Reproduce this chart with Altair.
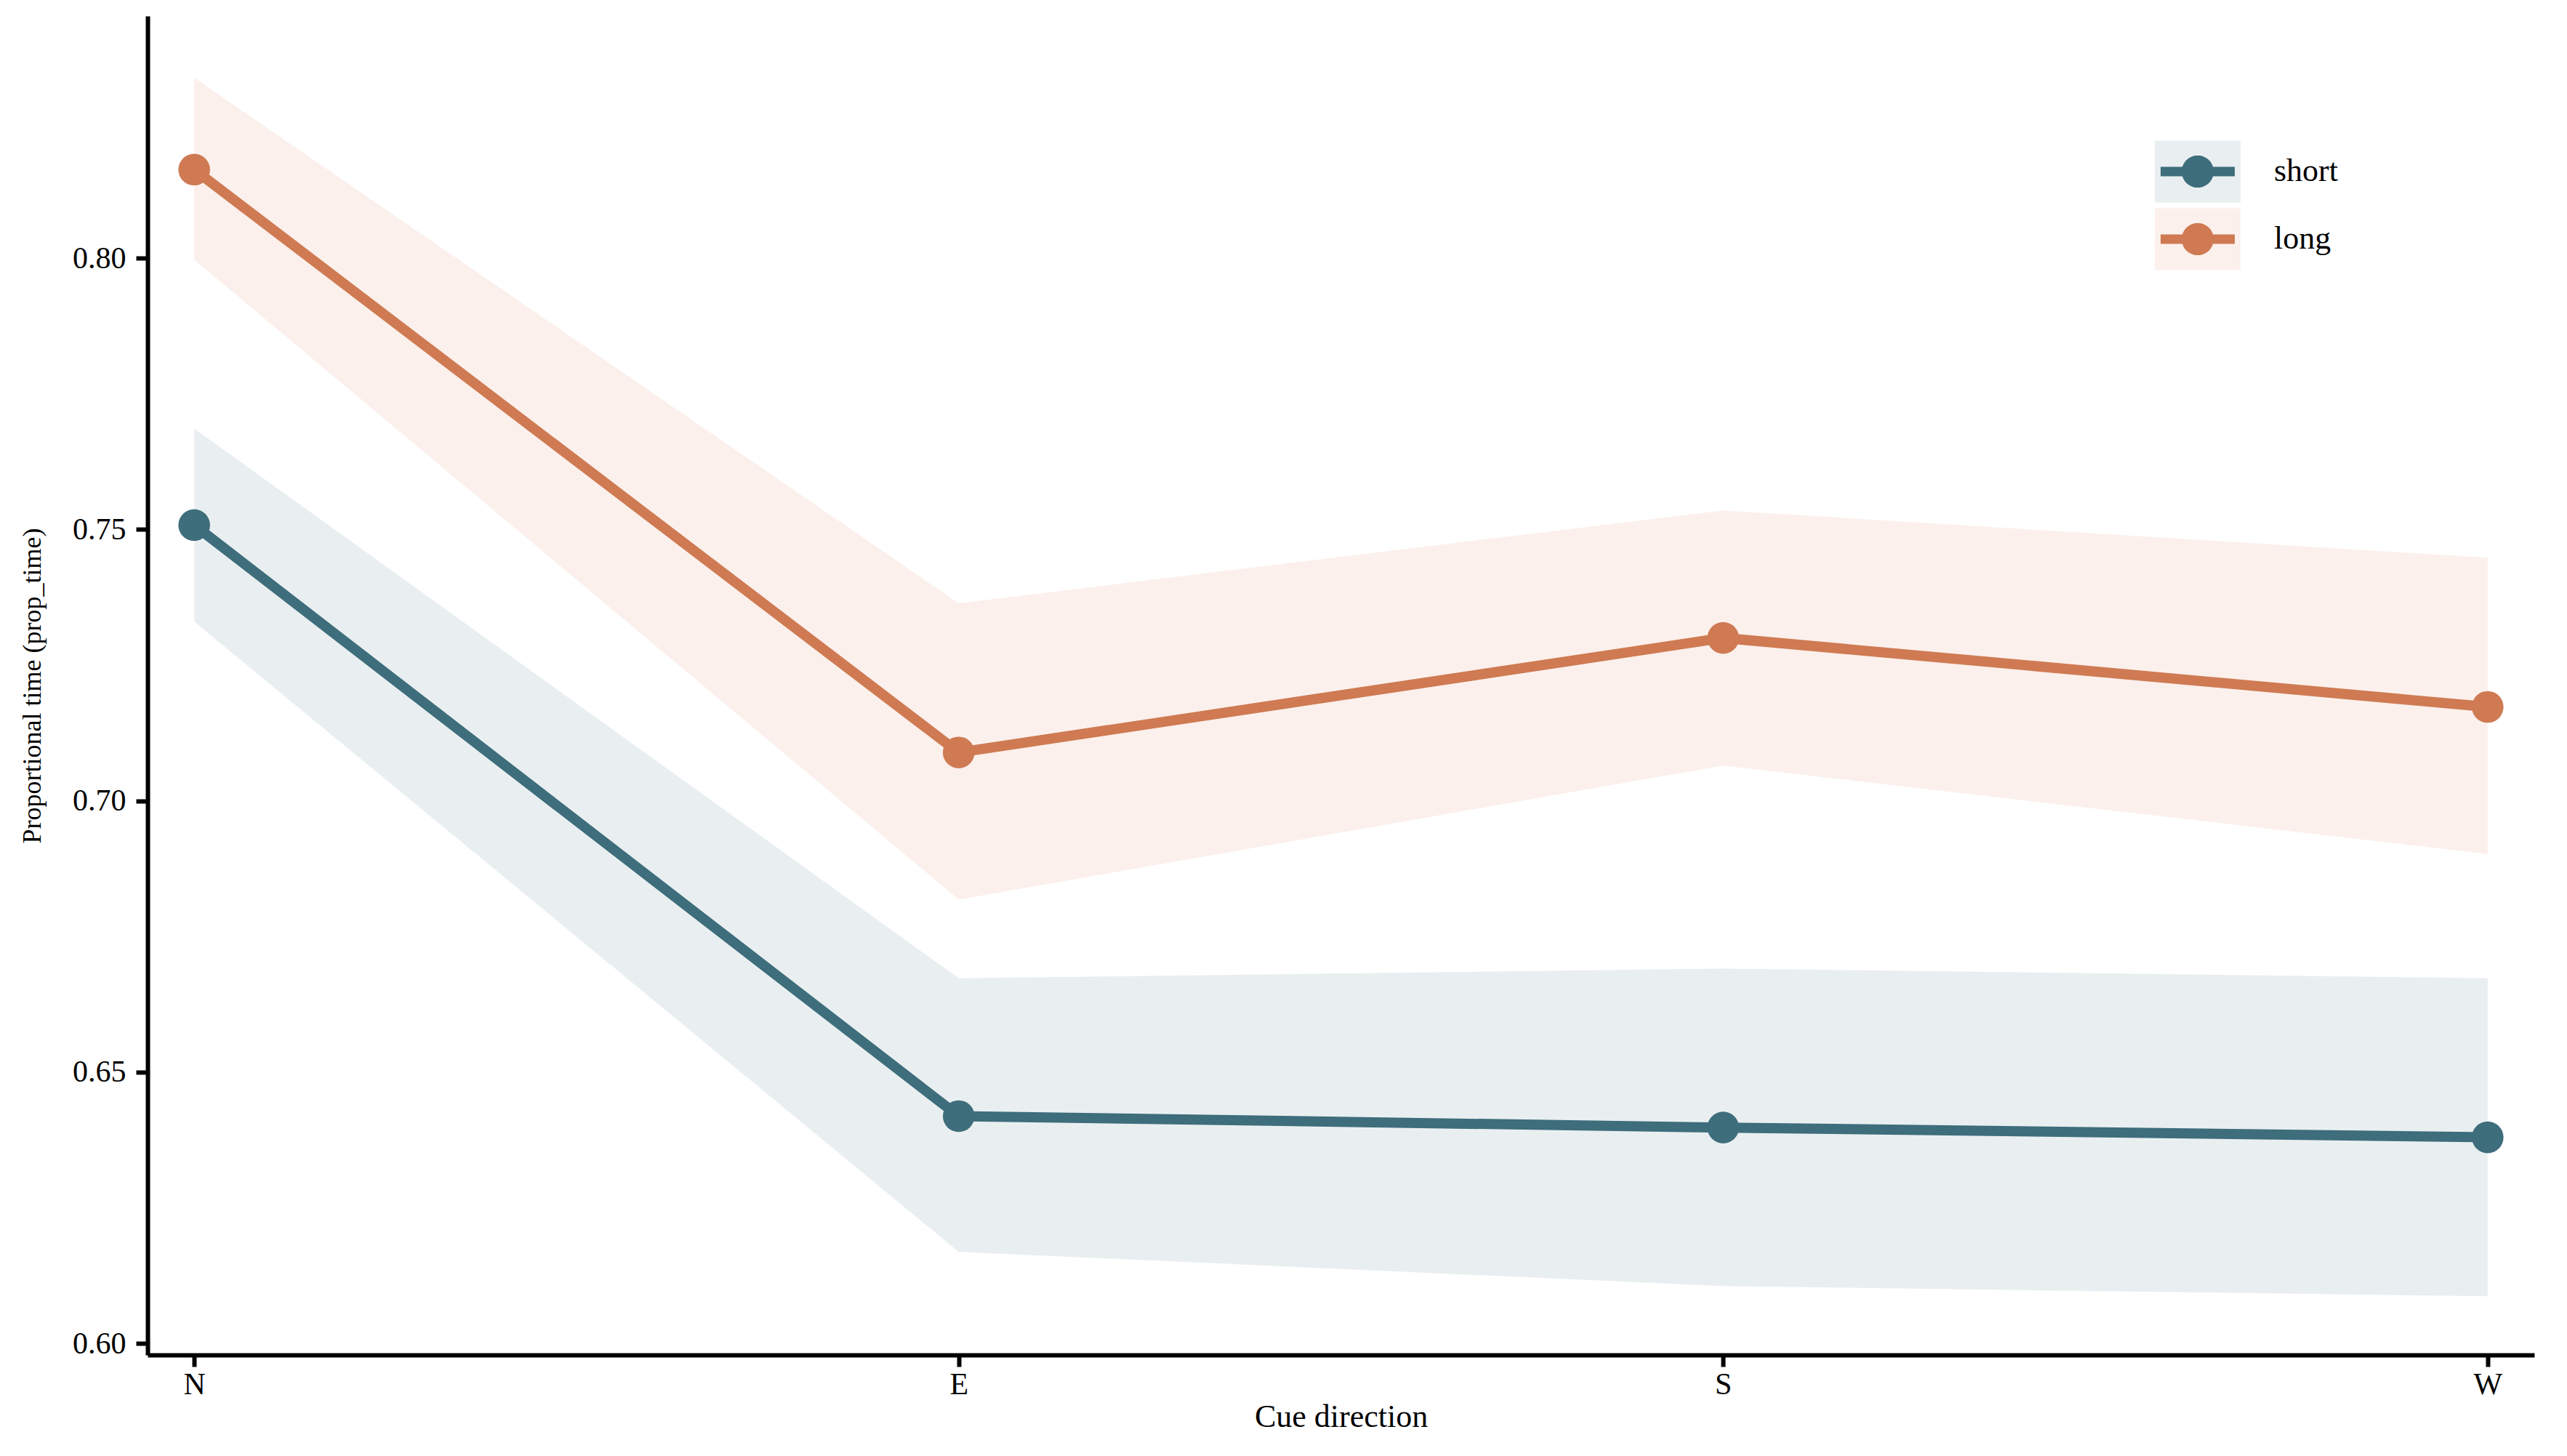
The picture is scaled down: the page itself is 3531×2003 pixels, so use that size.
import math
import altair as alt
import pandas as pd

directions = ["N", "E", "S", "W"]
groups = ["short", "long"]
band_names = ["short CI", "long CI"]

short_mean = [0.7508, 0.6419, 0.6398, 0.6380]
short_lo = [0.7330, 0.6169, 0.6106, 0.6087]
short_hi = [0.7686, 0.6673, 0.6691, 0.6673]

long_mean = [0.8163, 0.7089, 0.7300, 0.7173]
long_lo = [0.7997, 0.6818, 0.7065, 0.6902]
long_hi = [0.8332, 0.7364, 0.7535, 0.7448]

y_ticks = [0.60, 0.65, 0.70, 0.75, 0.80]

rows = []
for k, (g, bname, m, lo, hi) in enumerate([("short", band_names[0], short_mean, short_lo, short_hi),
                                           ("long", band_names[1], long_mean, long_lo, long_hi)]):
    for d, a, b, c in zip(directions, m, lo, hi):
        rows.append({"direction": d, "group": g, "band": bname, "order": k,
                     "mean": a, "lo": b, "hi": c})
df = pd.DataFrame(rows)

dark = ["#3e6d7c", "#cf7a52"]
pale = ["#e9eff0", "#fbf0ec"]
FONT = "Liberation Serif"

x = alt.X("direction:N", sort=directions,
          scale=alt.Scale(type="point", padding=0.061),
          axis=alt.Axis(title="Cue direction", labelAngle=0, labelPadding=4,
                        titlePadding=2, titleFontSize=44))
yscale = alt.Scale(domain=[0.5979, 0.8446], nice=False, zero=False)
yaxis = alt.Axis(title="Proportional time (prop_time)", values=y_ticks, format=".2f",
                 labelPadding=14, titlePadding=36, titleFontSize=36)

# legend glyph shapes (unit-square symbol paths)
BW, BH = 1.255, 0.904
rect_path = f"M-{BW},-{BH}L{BW},-{BH}L{BW},{BH}L-{BW},{BH}Z"

t, L, r = 0.138, 1.085, 0.47
a0 = math.asin(t / r)
pts_top = [(r * math.cos(th), r * math.sin(th))
           for th in [(-math.pi + a0) + (math.pi - 2 * a0) * i / 20 for i in range(21)]]
pts_bot = [(r * math.cos(th), r * math.sin(th))
           for th in [a0 + (math.pi - 2 * a0) * i / 20 for i in range(21)]]
outline = [(-L, -t)] + pts_top + [(L, -t), (L, t)] + pts_bot + [(-L, t)]
sym_path = "M" + "L".join(f"{px:.4f},{py:.4f}" for px, py in outline) + "Z"
# zero-area anchors so the glyph has the same bounds as the background box
sym_path += f"M-{BW},-{BH}L-{BW},-{BH}ZM{BW},{BH}L{BW},{BH}Z"

common_legend = dict(orient="none", legendX=2773, legendY=167, title=None, padding=0,
                     rowPadding=3, labelOffset=58, labelFont=FONT, labelFontSize=44,
                     labelColor="black", symbolSize=94 * 94, symbolStrokeWidth=0,
                     symbolOpacity=1)

order_sort = alt.EncodingSortField(field="order", op="min")

band = alt.Chart(df).mark_area(opacity=1).encode(
    x=x,
    y=alt.Y("lo:Q", scale=yscale, axis=yaxis),
    y2="hi:Q",
    color=alt.Color("band:N", sort=order_sort, scale=alt.Scale(range=pale),
                    legend=alt.Legend(symbolType=rect_path, zindex=0, labelOpacity=0,
                                      labelExpr="replace(datum.label, ' CI', '')",
                                      **common_legend)),
)

line = alt.Chart(df).mark_line(strokeWidth=14).encode(
    x=x,
    y=alt.Y("mean:Q", scale=yscale, axis=yaxis),
    stroke=alt.Stroke("group:N", scale=alt.Scale(domain=groups, range=dark), legend=None),
)

pts = alt.Chart(df).mark_circle(size=1900, opacity=1).encode(
    x=x,
    y=alt.Y("mean:Q", scale=yscale, axis=yaxis),
    fill=alt.Fill("group:N", sort=order_sort, scale=alt.Scale(range=dark),
                  legend=alt.Legend(symbolType=sym_path, zindex=1, **common_legend)),
)

chart = alt.layer(band, line, pts).properties(
    width=3283, height=1842,
    autosize=alt.AutoSizeParams(type="none"),
    padding={"left": 195, "top": 14, "right": 30, "bottom": 120},
    background="white",
).configure_view(stroke=None).configure_axis(
    grid=False, domainColor="black", domainWidth=6, tickColor="black", tickWidth=6,
    tickSize=16, labelFont=FONT, labelFontSize=42, labelColor="black",
    titleFont=FONT, titleFontSize=42, titleColor="black", titleFontWeight="normal",
)

chart.save("out.html", embed_options={"renderer": "svg", "actions": False})
